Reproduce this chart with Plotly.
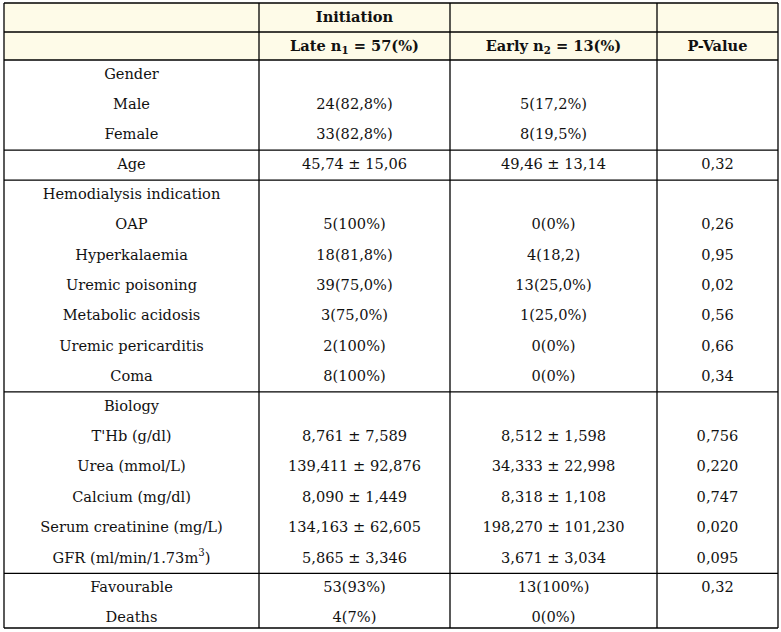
import plotly.graph_objects as go

# ---------------- data ----------------
header_top = ["", "Initiation", "", ""]
header_cols = ["", "Late n<sub>1</sub> = 57(%)", "Early n<sub>2</sub> = 13(%)", "P-Value"]

labels = ["Gender", "Male", "Female",
          "Age",
          "Hemodialysis indication", "OAP", "Hyperkalaemia", "Uremic poisoning",
          "Metabolic acidosis", "Uremic pericarditis", "Coma",
          "Biology", "T'Hb (g/dl)", "Urea (mmol/L)", "Calcium (mg/dl)",
          "Serum creatinine (mg/L)", "GFR (ml/min/1.73m<sup>3</sup>)",
          "Favourable", "Deaths"]
late = ["", "24(82,8%)", "33(82,8%)",
        "45,74 ± 15,06",
        "", "5(100%)", "18(81,8%)", "39(75,0%)", "3(75,0%)", "2(100%)", "8(100%)",
        "", "8,761 ± 7,589", "139,411 ± 92,876", "8,090 ± 1,449",
        "134,163 ± 62,605", "5,865 ± 3,346",
        "53(93%)", "4(7%)"]
early = ["", "5(17,2%)", "8(19,5%)",
         "49,46 ± 13,14",
         "", "0(0%)", "4(18,2)", "13(25,0%)", "1(25,0%)", "0(0%)", "0(0%)",
         "", "8,512 ± 1,598", "34,333 ± 22,998", "8,318 ± 1,108",
         "198,270 ± 101,230", "3,671 ± 3,034",
         "13(100%)", "0(0%)"]
pvalue = ["", "", "",
          "0,32",
          "", "0,26", "0,95", "0,02", "0,56", "0,66", "0,34",
          "", "0,756", "0,220", "0,747", "0,020", "0,095",
          "0,32", ""]
group_sizes = [3, 1, 7, 6, 2]

# ---------------- geometry (layout) ----------------
W, H = 781, 632
col_edges = [4, 259, 450, 657, 778]
row_top, row_h1, row_h2 = 3, 29, 28
body_top = row_top + row_h1 + row_h2  # 60
line_pitch = 30.4

col_centers = [(col_edges[i] + col_edges[i + 1]) / 2 for i in range(4)]

ys = []
bounds = [body_top]
y = body_top
for g in group_sizes:
    start = y
    for k in range(g):
        ys.append(start + 15 + k * line_pitch)
    y = start + g * line_pitch - (1.0 if g > 1 else 0.5)
    bounds.append(y)
bounds[-1] = 628

font = dict(family="DejaVu Serif", size=14.6, color="#111111")

fig = go.Figure()

shapes = [dict(type="rect", xref="x", yref="y", x0=col_edges[0], x1=col_edges[-1],
               y0=row_top, y1=body_top, fillcolor="#FEFBE8", line=dict(width=0), layer="below")]

hlines = [row_top, row_top + row_h1, body_top] + bounds[1:]
for yy in hlines:
    shapes.append(dict(type="line", xref="x", yref="y", x0=col_edges[0], x1=col_edges[-1],
                       y0=yy, y1=yy, line=dict(color="black", width=1.3)))
for xx in col_edges:
    shapes.append(dict(type="line", xref="x", yref="y", x0=xx, x1=xx,
                       y0=row_top, y1=bounds[-1], line=dict(color="black", width=1.3)))


def add_text(xs, yv, texts, bold=False):
    px, py, pt = [], [], []
    for x_, y_, t in zip(xs, yv, texts):
        if t:
            px.append(x_)
            py.append(y_)
            pt.append("<b>%s</b>" % t if bold else t)
    fig.add_trace(go.Scatter(x=px, y=py, mode="text", text=pt, textfont=font,
                             hoverinfo="skip", showlegend=False))


hy1 = row_top + row_h1 / 2 + 1
hy2 = row_top + row_h1 + row_h2 / 2 + 1
add_text(col_centers, [hy1] * 4, header_top, bold=True)
add_text(col_centers, [hy2] * 4, header_cols, bold=True)

for ci, col in enumerate([labels, late, early, pvalue]):
    add_text([col_centers[ci]] * len(col), ys, col)

fig.update_layout(
    width=W, height=H, margin=dict(l=0, r=0, t=0, b=0),
    plot_bgcolor="white", paper_bgcolor="white",
    xaxis=dict(range=[0, W], visible=False, fixedrange=True),
    yaxis=dict(range=[H, 0], visible=False, fixedrange=True),
    shapes=shapes,
)
fig.write_html("out.html", config={"displayModeBar": False},
               post_script="document.body.style.margin='0';document.body.style.overflow='hidden';")
